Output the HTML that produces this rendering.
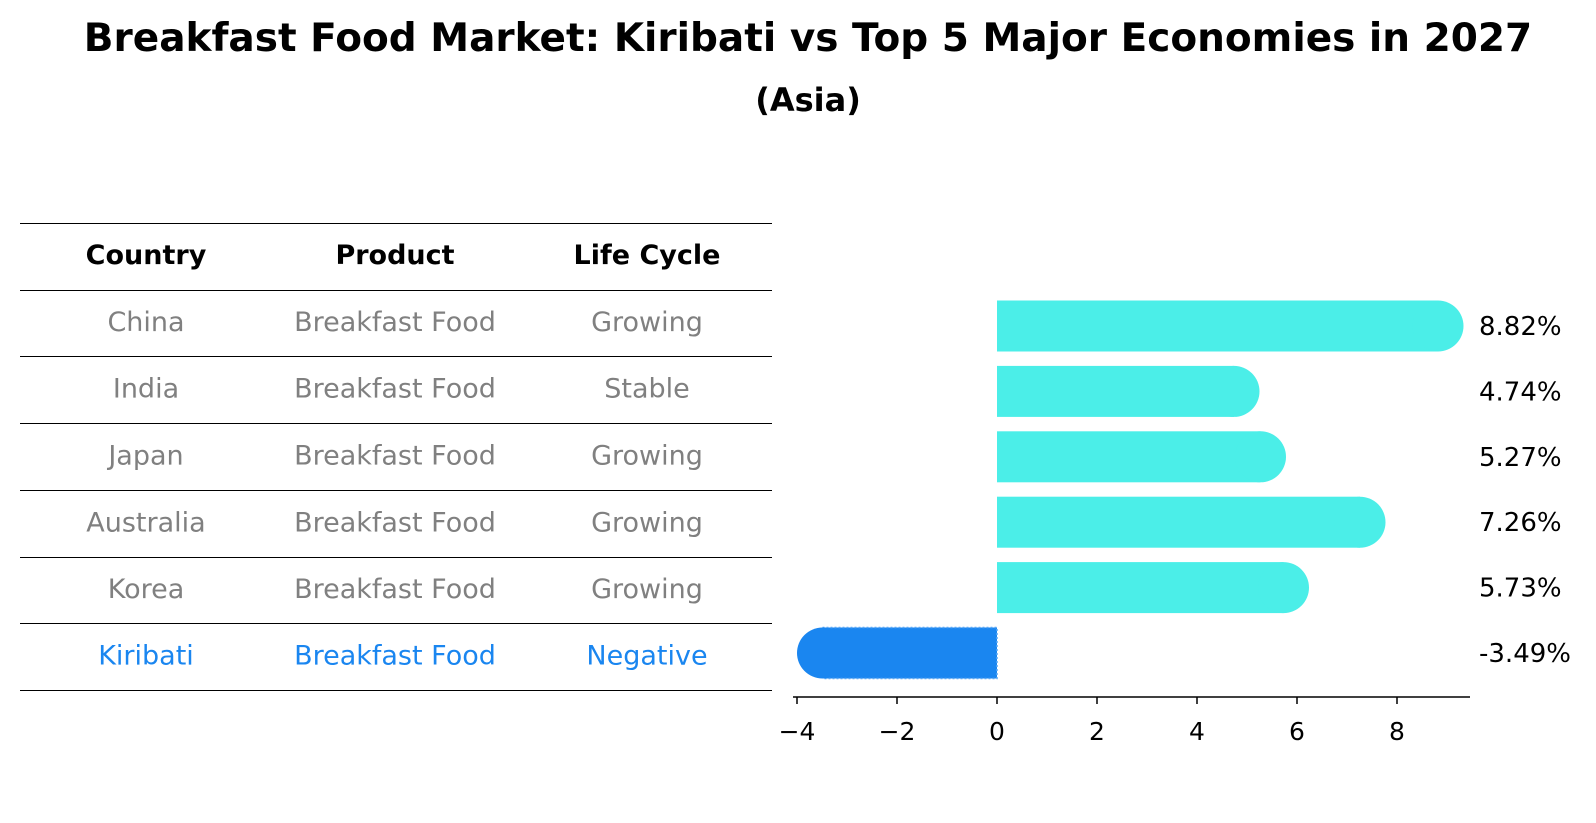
<!DOCTYPE html>
<html><head><meta charset="utf-8"><style>
body{margin:0;background:#fff;font-family:"Liberation Sans","DejaVu Sans",sans-serif;}
svg{display:block}
</style></head><body>
<svg width="1596" height="823" viewBox="0 0 1596 823">
<text x="808" y="51" text-anchor="middle" font-size="39" font-weight="bold" font-family="DejaVu Sans, sans-serif">Breakfast Food Market: Kiribati vs Top 5 Major Economies in 2027</text>
<text x="808" y="111" text-anchor="middle" font-size="32" font-weight="bold" font-family="DejaVu Sans, sans-serif">(Asia)</text>
<g id="table"></g>
<g id="bars"></g>
</svg>
<script>
const countries=["China","India","Japan","Australia","Korea","Kiribati"];
const products=["Breakfast Food","Breakfast Food","Breakfast Food","Breakfast Food","Breakfast Food","Breakfast Food"];
const lifeCycles=["Growing","Stable","Growing","Growing","Growing","Negative"];
const growth=[8.82,4.74,5.27,7.26,5.73,-3.49];
const ticks=[-4,-2,0,2,4,6,8];
const NS="http://www.w3.org/2000/svg";
function mk(t,a,p,txt){const e=document.createElementNS(NS,t);for(const k in a)e.setAttribute(k,a[k]);if(txt!==undefined)e.textContent=txt;p.appendChild(e);return e;}
const tbl=document.getElementById('table');
const lineYs=[223,290,356,423,490,557,623,690];
const colX=[146,395,647];
lineYs.forEach((y,i)=>{const l=mk('line',{x1:20,x2:772,y1:y+0.5,y2:y+0.5,stroke:'#000','stroke-width':1},tbl);

});
["Country","Product","Life Cycle"].forEach((h,j)=>{const t=mk('text',{x:colX[j],y:264,'text-anchor':'middle','font-size':27,'font-weight':'bold','font-family':'DejaVu Sans, sans-serif'},tbl,h);

});
countries.forEach((c,i)=>{const y=(lineYs[i+1]+lineYs[i+2])/2+8;const col=c==="Kiribati"?"#1a86f0":"#808080";
[c,products[i],lifeCycles[i]].forEach((v,j)=>{const t=mk('text',{x:colX[j],y:y,'text-anchor':'middle','font-size':27,fill:col,'font-family':'DejaVu Sans, sans-serif'},tbl,v);

});});
const g=document.getElementById('bars');
const x0=997,ppu=50;const X=v=>x0+v*ppu;
const rowY=i=>326+i*65.4;const bh=51,r=25.5;
growth.forEach((v,i)=>{const cy=rowY(i);const neg=v<0;const col=neg?"#1a86f0":"#4beee8";
const xs=Math.min(X(0),X(v)),w=Math.abs(X(v)-X(0));
const b=mk('rect',{x:xs,y:cy-bh/2,width:w,height:bh,fill:col},g);
if(neg){b.setAttribute('stroke','#5aa8f5');b.setAttribute('stroke-dasharray','2 2');b.setAttribute('stroke-width','1.5');}


const cap=mk('circle',{cx:X(v),cy:cy,r:r,fill:col},g);


const t=mk('text',{x:1479,y:cy+9,'font-size':26,'font-family':'DejaVu Sans, sans-serif'},g,v.toFixed(2)+'%');

});
const ax=mk('line',{x1:793,x2:1470,y1:697,y2:697,stroke:'#000','stroke-width':1.5},g);


ticks.forEach(tv=>{const tk=mk('line',{x1:X(tv),x2:X(tv),y1:697,y2:704,stroke:'#000','stroke-width':1.5},g);


const tl=mk('text',{x:X(tv),y:740,'text-anchor':'middle','font-size':25,'font-family':'DejaVu Sans, sans-serif'},g,tv<0?'\u2212'+Math.abs(tv):String(tv));

});
</script>
</body></html>
